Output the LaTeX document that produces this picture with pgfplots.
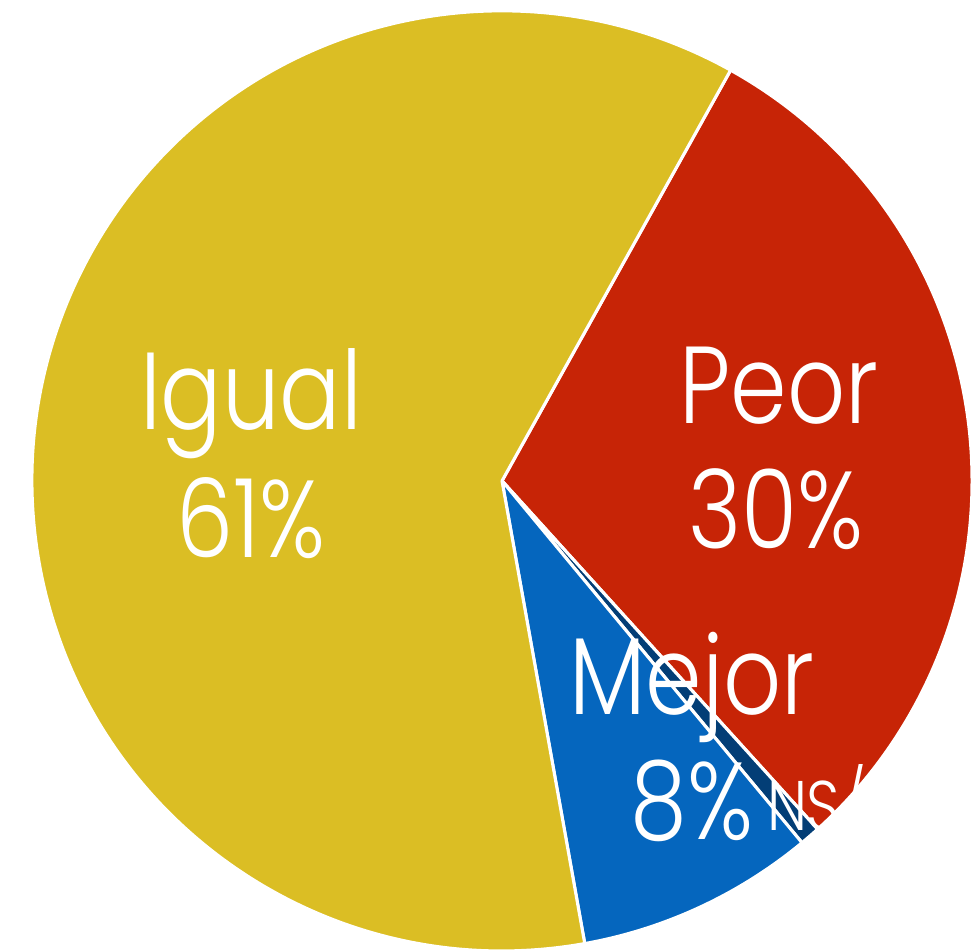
\documentclass[border=0pt]{standalone}
\usepackage{pgfplots}
\usepackage{pgfplotstable}
\pgfplotsset{compat=1.18}
\usepackage{fontspec}
\setmainfont{Poppins}[UprightFont={* Light}, FakeStretch=0.83]
\definecolor{slice0}{RGB}{199,36,6}
\definecolor{slice1}{RGB}{3,62,118}
\definecolor{slice2}{RGB}{5,102,190}
\definecolor{slice3}{RGB}{219,190,36}
\pgfplotstableread{
label pct
Peor  30.2
NSNC  0.7
Mejor 8.2
Igual 60.9
}\piedata
\begin{document}
\begin{tikzpicture}
\begin{axis}[
  x=4cm, y=4cm,
  xmin=-1.068, xmax=1.002, ymin=-1.002, ymax=1.023,
  hide axis, clip=false,
]
\pgfmathsetmacro\cum{0}
\pgfplotsforeachungrouped \i in {0,...,3}{%
  \pgfplotstablegetelem{\i}{pct}\of\piedata
  \pgfmathsetmacro\a{60.9 - 3.6*\cum}%
  \pgfmathsetmacro\b{60.9 - 3.6*(\cum+\pgfplotsretval)}%
  \pgfmathsetmacro\cum{\cum+\pgfplotsretval}%
  \edef\cmd{\noexpand\fill[fill=slice\i, draw=white, line width=0.75pt, line join=round] (axis cs:0,0) -- (axis cs:{cos(\a)},{sin(\a)}) arc[start angle=\a, end angle=\b, radius=4cm] -- cycle;}%
  \cmd
}
\coordinate (SW) at (axis cs:-1.068,-1.002);
\coordinate (NE) at (axis cs:1.002,1.023);
\begin{scope}[every node/.style={text=white, anchor=base, inner sep=0pt, font=\fontsize{26.5}{32}\selectfont}]
\node at (axis cs:-0.534,0.110) {Igual};
\node at (axis cs:-0.534,-0.162) {61\%};
\node at (axis cs:0.589,0.123) {Peor};
\node at (axis cs:0.583,-0.143) {30\%};
\node at (axis cs:0.404,-0.498) {Mejor};
\node at (axis cs:0.404,-0.764) {8\%};
\node[anchor=base west, font=\fontsize{17}{20}\selectfont] at (axis cs:0.562,-0.743) {NS/NC};
\end{scope}
\end{axis}
\pgfresetboundingbox
\useasboundingbox (SW) rectangle (NE);
\end{tikzpicture}
\end{document}
